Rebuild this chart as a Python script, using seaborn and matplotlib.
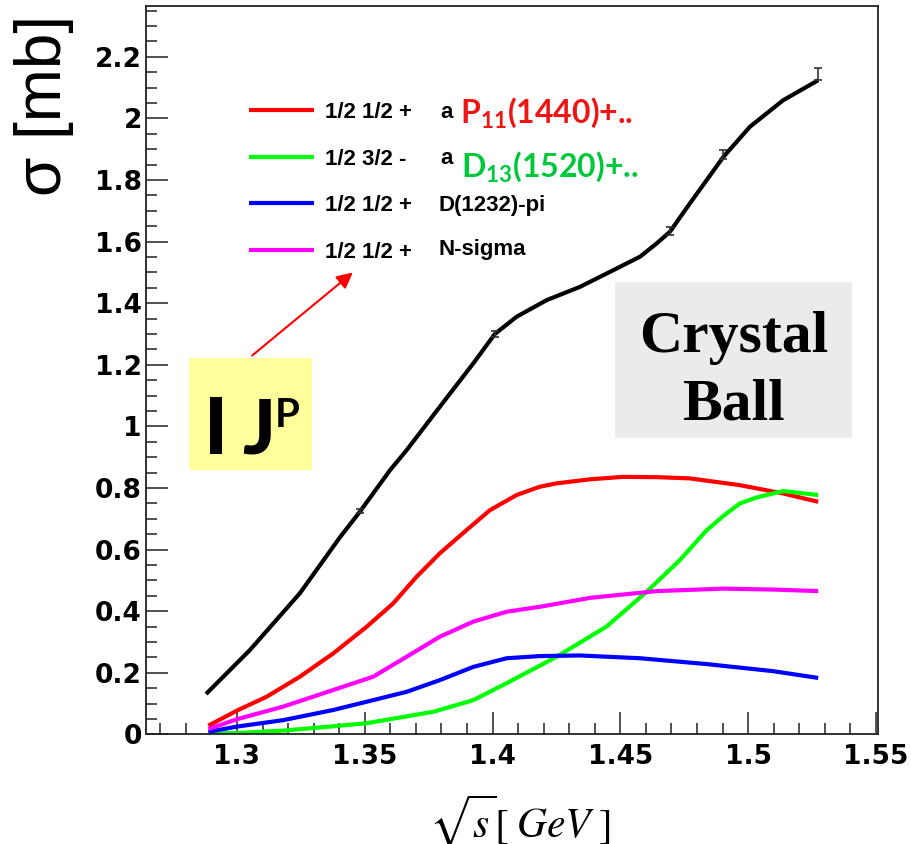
import numpy as np
import pandas as pd
import matplotlib
matplotlib.use("Agg")
import matplotlib.pyplot as plt
from matplotlib.patches import Rectangle, FancyArrowPatch
from matplotlib.lines import Line2D
from matplotlib.ticker import MultipleLocator, FuncFormatter
import seaborn as sns

# ---- total cross section (black curve) ----
total_x = [1.2879, 1.3051, 1.3246, 1.3403, 1.3481, 1.3599, 1.3664, 1.3794,
           1.3925, 1.4009, 1.4094, 1.4212, 1.4342, 1.4472, 1.4577, 1.4642,
           1.4694, 1.4772, 1.4838, 1.4903, 1.5007, 1.5137, 1.5274]
total_y = [0.131, 0.274, 0.458, 0.640, 0.723, 0.858, 0.923, 1.064,
           1.205, 1.300, 1.356, 1.410, 1.453, 1.507, 1.551, 1.594,
           1.632, 1.724, 1.800, 1.875, 1.973, 2.059, 2.124]

# ---- measured points with errors ----
meas_x = [1.3481, 1.4009, 1.4694, 1.4903, 1.5274]
meas_y = [0.725, 1.301, 1.635, 1.882, 2.144]
meas_err = [0.007, 0.010, 0.013, 0.015, 0.019]

# ---- partial channels ----
p11_x = [1.2888, 1.300, 1.3116, 1.3246, 1.3377, 1.3507, 1.3611, 1.3703, 1.3794,
         1.3898, 1.399, 1.4094, 1.4185, 1.4251, 1.4381, 1.4511, 1.4642, 1.4772,
         1.4968, 1.5137, 1.5274]
p11_y = [0.028, 0.077, 0.122, 0.187, 0.263, 0.349, 0.425, 0.512, 0.588,
         0.663, 0.728, 0.777, 0.804, 0.815, 0.828, 0.836, 0.835, 0.831,
         0.809, 0.782, 0.755]

d13_x = [1.2888, 1.300, 1.3181, 1.3376, 1.3507, 1.3768, 1.3925, 1.4055, 1.4251,
         1.4446, 1.4603, 1.4733, 1.4838, 1.4903, 1.4968, 1.5033, 1.5137, 1.5274]
d13_y = [0.002, 0.004, 0.012, 0.026, 0.036, 0.073, 0.111, 0.166, 0.252,
         0.350, 0.463, 0.566, 0.663, 0.709, 0.750, 0.769, 0.790, 0.777]

dpi_x = [1.2888, 1.300, 1.3181, 1.3377, 1.3533, 1.3664, 1.3794, 1.3925, 1.4055,
         1.4185, 1.4342, 1.4577, 1.4838, 1.5098, 1.5274]
dpi_y = [0.008, 0.025, 0.046, 0.079, 0.111, 0.138, 0.176, 0.219, 0.247,
         0.254, 0.256, 0.247, 0.228, 0.205, 0.183]

nsig_x = [1.2888, 1.300, 1.3181, 1.3377, 1.3533, 1.3664, 1.3794, 1.3925, 1.4055,
          1.4185, 1.4381, 1.4642, 1.4903, 1.5098, 1.5274]
nsig_y = [0.017, 0.049, 0.090, 0.144, 0.187, 0.252, 0.317, 0.366, 0.398,
          0.414, 0.443, 0.465, 0.473, 0.470, 0.465]

channels = ["P11", "D13", "Dpi", "Nsigma"]
jp_labels = ["1/2 1/2 +", "1/2 3/2 -", "1/2 1/2 +", "1/2 1/2 +"]
line_colors = ["#ff0000", "#00ff00", "#0000ff", "#ff00ff"]

frames = []
for name, xs, ys in zip(channels, [p11_x, d13_x, dpi_x, nsig_x],
                        [p11_y, d13_y, dpi_y, nsig_y]):
    frames.append(pd.DataFrame({"sqrt_s": xs, "sigma": ys, "channel": name}))
parts = pd.concat(frames, ignore_index=True)
total = pd.DataFrame({"sqrt_s": total_x, "sigma": total_y})

sns.set_style("ticks")
plt.rcParams["font.family"] = ["DejaVu Sans"]
plt.rcParams["text.color"] = "black"
plt.rcParams["xtick.color"] = "#333333"
plt.rcParams["ytick.color"] = "#333333"
plt.rcParams["xtick.labelcolor"] = "black"
plt.rcParams["ytick.labelcolor"] = "black"
plt.rcParams["lines.solid_capstyle"] = "butt"

W, H = 912, 844
fig = plt.figure(figsize=(W / 100, H / 100), dpi=100)


def fx(px):
    return px / W


def fy(py):
    return 1 - py / H


ax = fig.add_axes([fx(146), fy(734.3), fx(878) - fx(146), fy(5.7) - fy(734.3)])

sns.lineplot(data=parts, x="sqrt_s", y="sigma", hue="channel",
             hue_order=channels, palette=line_colors, sort=False,
             estimator=None, linewidth=3, legend=False, ax=ax)
sns.lineplot(data=total, x="sqrt_s", y="sigma", color="black", sort=False,
             estimator=None, linewidth=3, legend=False, ax=ax)
for ln in ax.get_lines():
    ln.set_solid_joinstyle("round")
ax.errorbar(meas_x, meas_y, yerr=meas_err, fmt="none", ecolor="#333333",
            elinewidth=1.2, capsize=3, capthick=1.2, zorder=5)

ax.set_xlim(1.2644, 1.5508)
ax.set_ylim(0, 2.366)
ax.set_xlabel("")
ax.set_ylabel("")

ax.xaxis.set_major_locator(MultipleLocator(0.05))
ax.xaxis.set_minor_locator(MultipleLocator(0.01))
ax.yaxis.set_major_locator(MultipleLocator(0.2))
ax.yaxis.set_minor_locator(MultipleLocator(0.05))
fmt = FuncFormatter(lambda v, p: f"{v:g}")
ax.xaxis.set_major_formatter(fmt)
ax.yaxis.set_major_formatter(fmt)

ax.tick_params(which="both", direction="in", top=False, right=False,
               color="#333333", width=1.2)
ax.tick_params(which="major", length=15.8)
ax.tick_params(which="minor", length=8)
ax.tick_params(axis="x", which="major", pad=7)
ax.tick_params(axis="y", which="major", pad=3)
for lab in ax.get_xticklabels() + ax.get_yticklabels():
    lab.set_fontweight("bold")
    lab.set_fontsize(19)
    lab.set_family("DejaVu Sans")
    lab.set_color("black")
for sp in ax.spines.values():
    sp.set_visible(True)
    sp.set_color("#222222")
    sp.set_linewidth(1.3)

# ---- axis titles ----
fig.text(fx(44), fy(106), "σ [mb]", rotation=90, ha="center", va="center",
         fontsize=46, family="Liberation Sans")
fig.text(fx(520), fy(838), r"$\sqrt{s}\left[\;GeV\;\right]$", ha="center",
         va="baseline", fontsize=30, math_fontfamily="stix")

# ---- legend: isospin / spin-parity column ----
handles = [Line2D([], [], color=c, lw=3) for c in line_colors]
leg = ax.legend(handles, jp_labels, loc="upper left",
                bbox_to_anchor=(fx(249), fy(102)), bbox_transform=fig.transFigure,
                frameon=False, borderpad=0, borderaxespad=0,
                handlelength=2.93, handletextpad=0.5, labelspacing=1.15,
                prop={"family": "Liberation Sans", "weight": "bold", "size": 16})

small = dict(family="Liberation Sans", weight="bold", fontsize=16,
             va="baseline", ha="left", color="black")
fig.text(fx(440), fy(118), "a", **small)
fig.text(fx(440), fy(164), "a", **small)
fig.text(fx(439), fy(211), "D(1232)-pi", **small)
fig.text(fx(439), fy(255), "N-sigma", **small)

big = dict(family="Lato", weight="bold", fontsize=23, va="baseline", ha="left")
fig.text(fx(460), fy(123), r"P$_{\mathregular{11}}$(1440)+..", color="#f01515", **big)
fig.text(fx(461), fy(177), r"D$_{\mathregular{13}}$(1520)+..", color="#00c83c", **big)

# ---- quantum-number annotation ----
fig.add_artist(Rectangle((fx(189), fy(470)), fx(312) - fx(189), fy(358) - fy(470),
                         transform=fig.transFigure, facecolor="#ffff9c",
                         edgecolor="none", zorder=2))
fig.text(fx(204), fy(454), "I", family="Lato", weight="black", fontsize=57,
         va="baseline", ha="left", zorder=3)
fig.text(fx(242), fy(454), "J", family="Lato", weight="black", fontsize=55,
         va="baseline", ha="left", zorder=3)
fig.text(fx(275), fy(427), "P", family="Lato", weight="bold", fontsize=29,
         va="baseline", ha="left", zorder=3)
fig.add_artist(FancyArrowPatch((fx(250), fy(357.3)), (fx(355), fy(270.7)),
                               transform=fig.transFigure, arrowstyle="-|>",
                               mutation_scale=24, color="#ff0000", lw=1.5,
                               zorder=3))

# ---- detector label ----
fig.add_artist(Rectangle((fx(615), fy(438)), fx(852) - fx(615), fy(282) - fy(438),
                         transform=fig.transFigure, facecolor="#ebebeb",
                         edgecolor="none", zorder=2))
serif = dict(family="Liberation Serif", weight="bold", fontsize=43,
             ha="center", va="baseline", zorder=3, color="black")
fig.text(fx(734), fy(352), "Crystal", **serif)
fig.text(fx(733), fy(420), "Ball", **serif)

fig.savefig("out.png", dpi=100)
